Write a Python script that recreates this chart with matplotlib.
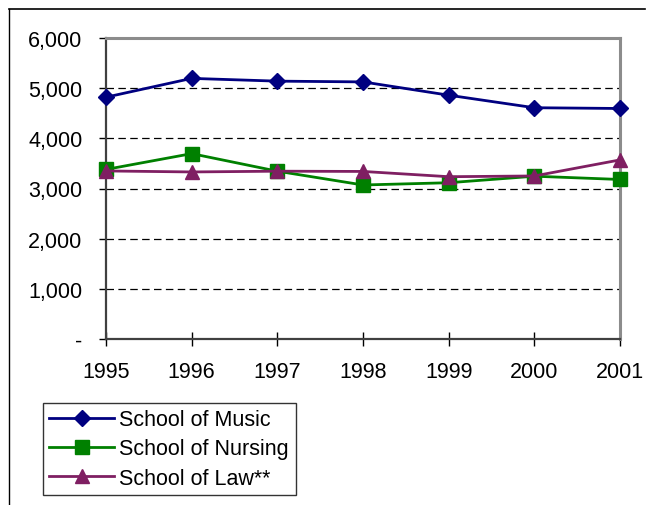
import matplotlib.pyplot as plt
from matplotlib.lines import Line2D

plt.rcParams['font.family'] = ['Liberation Sans', 'DejaVu Sans']

years = [1995, 1996, 1997, 1998, 1999, 2000, 2001]
music = [4820, 5195, 5140, 5125, 4860, 4610, 4595]
nursing = [3380, 3695, 3345, 3070, 3115, 3245, 3180]
law = [3350, 3330, 3345, 3340, 3235, 3250, 3570]
yticks = [0, 1000, 2000, 3000, 4000, 5000, 6000]
ylabels = ['-', '1,000', '2,000', '3,000', '4,000', '5,000', '6,000']

W, H = 647, 506
fig = plt.figure(figsize=(W / 100, H / 100), dpi=100)

# outer frame (top and left edges only visible)
fig.add_artist(Line2D([9 / W, 9 / W], [0, 1 - 10 / H], color='black', lw=1))
fig.add_artist(Line2D([9 / W, 645 / W], [1 - 10 / H, 1 - 10 / H], color='black', lw=1.2))

ax = fig.add_axes([106 / W, 1 - 340 / H, (620 - 106) / W, (340 - 39) / H])

ax.plot(years, music, color='#000080', lw=2, marker='D', ms=8.5,
        clip_on=False, zorder=5, label='School of Music')
ax.plot(years, nursing, color='#008000', lw=2, marker='s', ms=9.5,
        clip_on=False, zorder=4, label='School of Nursing')
ax.plot(years, law, color='#7F1F62', lw=2, marker='^', ms=10.5,
        clip_on=False, zorder=6, label='School of Law**')

ax.set_xlim(1995, 2001)
ax.set_ylim(0, 6000)
ax.set_xticks(years)
ax.set_xticklabels([str(y) for y in years])
ax.set_yticks(yticks)
ax.set_yticklabels(ylabels)

for y in yticks[1:-1]:
    ax.axhline(y, color='black', lw=0.9, dashes=(6, 3.5), zorder=1)

for s in ['left', 'bottom']:
    ax.spines[s].set_color('#404040')
    ax.spines[s].set_linewidth(1.6)
for s in ['top', 'right']:
    ax.spines[s].set_color('#8c8c8c')
    ax.spines[s].set_linewidth(2.2)

ax.tick_params(axis='y', direction='out', length=5, width=1, pad=12, labelsize=15.5)
ax.tick_params(axis='x', direction='inout', length=10, width=1, pad=11, labelsize=15.5)

leg = ax.legend(loc='lower left', bbox_to_anchor=(43 / W, 10 / H),
                bbox_transform=fig.transFigure, borderaxespad=0,
                fontsize=15.5, fancybox=False, edgecolor='black',
                handlelength=3.0, handletextpad=0.25, labelspacing=0.38,
                borderpad=0.3)
leg.get_frame().set_linewidth(1)

fig.savefig('out.png', dpi=100)
